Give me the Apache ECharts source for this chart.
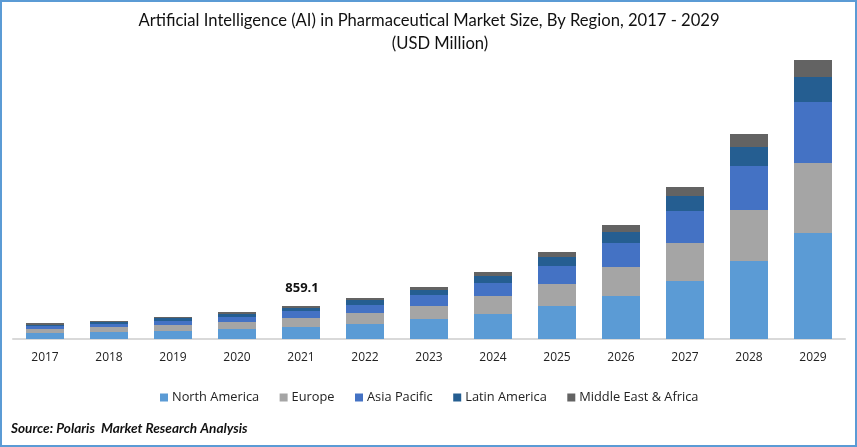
<!DOCTYPE html>
<html>
<head>
<meta charset="utf-8">
<style>
  html, body { margin: 0; padding: 0; background: #fff; }
  #chart { width: 857px; height: 447px; }
</style>
<script src="https://cdn.jsdelivr.net/npm/echarts@6/dist/echarts.min.js"></script>
</head>
<body>
<div id="chart"></div>
<script>
const years = ['2017', '2018', '2019', '2020', '2021', '2022', '2023', '2024', '2025', '2026', '2027', '2028', '2029']
const northAmerica = [156, 182, 208, 260, 312, 390, 520, 650, 858, 1118, 1508, 2028, 2756]
const europe = [104, 130, 156, 182, 234, 286, 338, 468, 572, 754, 988, 1326, 1820]
const asiaPacific = [78, 78, 104, 130, 182, 208, 286, 338, 468, 624, 832, 1144, 1586]
const latinAmerica = [26, 52, 78, 78, 78, 130, 130, 182, 234, 286, 390, 494, 650]
const middleEastAfrica = [52, 26, 26, 52, 53.1, 52, 78, 104, 130, 182, 234, 338, 442]
const labelled = { 2021: '859.1' }

const font = 'Open Sans'
const titleStyle = { fontFamily: 'Lato', fontSize: 16.6, fontWeight: 'normal', color: '#111', lineHeight: 23 }
const chart = echarts.init(document.getElementById('chart'))

const makeSeries = (name, values, color) => ({
  name: name,
  type: 'bar',
  stack: 'total',
  barWidth: 38,
  itemStyle: { color: color },
  data: values
})

const topSeries = makeSeries('Middle East & Africa', middleEastAfrica, '#636363')
topSeries.label = {
  show: true,
  position: 'top',
  distance: 11,
  offset: [1, 0],
  color: '#111',
  fontFamily: font,
  fontSize: 13,
  fontWeight: 'bold',
  formatter: (p) => labelled[p.name] || ''
}

chart.setOption({
  animation: false,
  backgroundColor: '#fff',
  // the second line sits right of the first in the reference, so two titles
  title: [
    {
      text: 'Artificial Intelligence (AI) in Pharmaceutical Market Size, By Region, 2017 - 2029',
      left: 424,
      top: 4,
      textAlign: 'center',
      textStyle: titleStyle
    },
    {
      text: '(USD Million)',
      left: 435,
      top: 27,
      textAlign: 'center',
      textStyle: titleStyle
    }
  ],
  legend: {
    left: 155,
    top: 386,
    icon: 'rect',
    itemWidth: 8,
    itemHeight: 8,
    itemGap: 20.5,
    textStyle: { fontFamily: font, fontSize: 12.8, color: '#222', padding: [0, 0, 0, -1] }
  },
  grid: { left: 13, right: 12, top: 39, bottom: 108 },
  xAxis: {
    type: 'category',
    data: years,
    axisTick: { show: false },
    axisLine: { lineStyle: { color: '#d9d9d9', width: 2 } },
    axisLabel: { color: '#222', fontFamily: font, fontSize: 12, margin: 13 }
  },
  yAxis: { type: 'value', min: 0, max: 7800, show: false, splitLine: { show: false } },
  series: [
    makeSeries('North America', northAmerica, '#5B9BD5'),
    makeSeries('Europe', europe, '#A5A5A5'),
    makeSeries('Asia Pacific', asiaPacific, '#4472C4'),
    makeSeries('Latin America', latinAmerica, '#255E91'),
    topSeries
  ],
  graphic: [
    {
      type: 'rect',
      silent: true,
      shape: { x: 1, y: 1, width: 855, height: 445 },
      style: { fill: 'none', stroke: '#5B9BD5', lineWidth: 2 }
    },
    {
      type: 'text',
      left: 11,
      top: 422,
      style: { text: 'Source: Polaris  Market Research Analysis', fontFamily: 'Lato', fontSize: 13.6, fontWeight: 'bold', fontStyle: 'italic', fill: '#111' }
    }
  ]
})
</script>
</body>
</html>
